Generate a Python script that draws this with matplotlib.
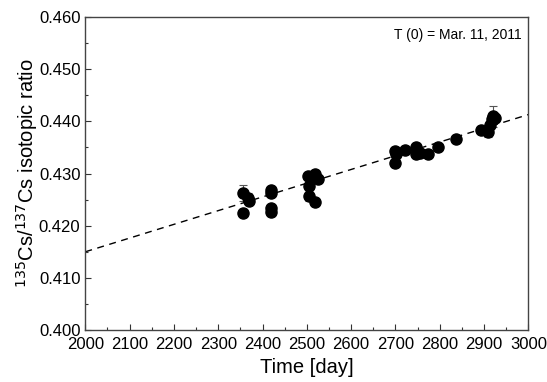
import numpy as np
import matplotlib.pyplot as plt
from matplotlib.ticker import MultipleLocator

plt.rcParams['font.family'] = ['Liberation Sans', 'DejaVu Sans']

# measured points (day since Mar. 11, 2011, ratio, error)
days = [2355, 2367, 2369, 2355,
        2418, 2418, 2418, 2418,
        2503, 2518, 2525, 2504, 2504, 2519,
        2699, 2699, 2701, 2721, 2746, 2747, 2755, 2774, 2797, 2836,
        2894, 2909, 2913, 2917, 2920, 2924]
ratio = [0.4263, 0.4254, 0.4247, 0.4225,
         0.4268, 0.4263, 0.4233, 0.4226,
         0.4295, 0.4300, 0.4289, 0.4276, 0.4256, 0.4245,
         0.4343, 0.4320, 0.4338, 0.4346, 0.4351, 0.4337, 0.4340, 0.4338, 0.4351, 0.4367,
         0.4383, 0.4380, 0.4393, 0.4405, 0.4410, 0.4406]
err = [0.0015, 0.0008, 0.0008, 0.0007,
       0.0007, 0.0007, 0.0007, 0.0007,
       0.0008, 0.0007, 0.0008, 0.0008, 0.0008, 0.0008,
       0.0008, 0.0008, 0.0007, 0.0006, 0.0007, 0.0008, 0.0006, 0.0006, 0.0006, 0.0006,
       0.0008, 0.0010, 0.0008, 0.0010, 0.0020, 0.0008]

# fitted line
fit_x = [2000, 3000]
fit_y = [0.4150, 0.4413]

fig = plt.figure(figsize=(5.47, 3.82), dpi=100)
ax = fig.add_axes([0.156, 0.136, 0.81, 0.8195])

ax.plot(fit_x, fit_y, '--', color='black', lw=1.0, dashes=(5, 4), zorder=1)
ax.errorbar(days, ratio, yerr=err, fmt='o', color='black', ms=8,
            ecolor='#555555', elinewidth=0.8, capsize=3, capthick=0.8, zorder=2)

ax.set_xlim(2000, 3000)
ax.set_ylim(0.400, 0.460)
ax.xaxis.set_major_locator(MultipleLocator(100))
ax.xaxis.set_minor_locator(MultipleLocator(50))
ax.yaxis.set_major_locator(MultipleLocator(0.01))
ax.yaxis.set_minor_locator(MultipleLocator(0.005))
ax.yaxis.set_major_formatter(plt.FormatStrFormatter('%.3f'))
ax.tick_params(which='both', direction='in', labelsize=12, color='#333333')
ax.tick_params(axis='x', pad=5)
ax.tick_params(which='major', length=4, width=0.8)
ax.tick_params(which='minor', length=2.5, width=0.8)
for s in ax.spines.values():
    s.set_color('#444444')
    s.set_linewidth(1.0)

ax.set_xlabel('Time [day]', fontsize=14.5, labelpad=4)
ax.set_ylabel('$^{135}$Cs/$^{137}$Cs isotopic ratio', fontsize=14.5, labelpad=-1)
ax.text(0.985, 0.965, 'T (0) = Mar. 11, 2011', transform=ax.transAxes,
        ha='right', va='top', fontsize=10)

fig.savefig('out.png', dpi=100)
